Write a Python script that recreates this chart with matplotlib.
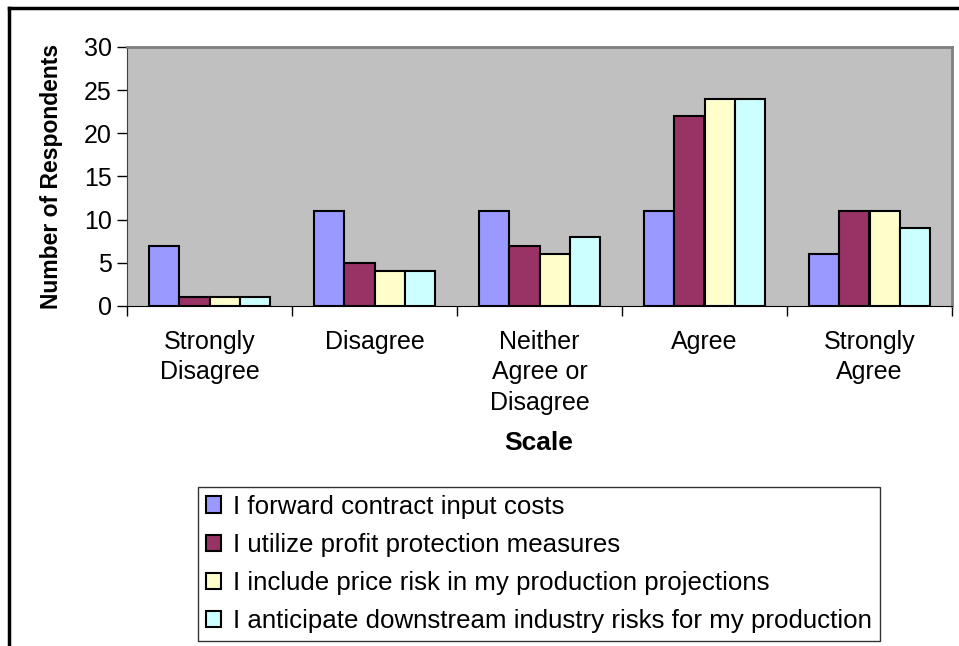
import numpy as np
import matplotlib.pyplot as plt
from matplotlib.lines import Line2D

plt.rcParams['font.family'] = ['Liberation Sans', 'DejaVu Sans']

categories = ['Strongly\nDisagree', 'Disagree', 'Neither\nAgree or\nDisagree', 'Agree', 'Strongly\nAgree']
series_names = [
    'I forward contract input costs',
    'I utilize profit protection measures',
    'I include price risk in my production projections',
    'I anticipate downstream industry risks for my production',
]
forward_contract = [7, 11, 11, 11, 6]
profit_protection = [1, 5, 7, 22, 11]
price_risk = [1, 4, 6, 24, 11]
downstream_risk = [1, 4, 8, 24, 9]
colors = ['#9999FF', '#993366', '#FFFFCC', '#CCFFFF']

W, H = 959, 646
fig = plt.figure(figsize=(W / 100, H / 100), dpi=100)
ax = fig.add_axes([127 / W, 1 - 306 / H, 825 / W, 259 / H])
ax.set_facecolor('#C0C0C0')

x = np.arange(len(categories))
bar_w = 0.182
series = [forward_contract, profit_protection, price_risk, downstream_risk]
for i, (vals, name, c) in enumerate(zip(series, series_names, colors)):
    ax.bar(x + (i - 1.5) * bar_w, vals, bar_w, color=c, edgecolor='black',
           linewidth=1.5, label=name, zorder=3)

ax.set_xlim(-0.5, len(categories) - 0.5)
ax.set_ylim(0, 30)
ax.set_yticks(range(0, 31, 5))
ax.tick_params(axis='y', labelsize=18, length=7, width=1, direction='out', pad=4)

# category boundaries as major ticks, names centered on minor ticks
ax.set_xticks(np.arange(-0.5, len(categories), 1))
ax.set_xticklabels([])
ax.set_xticks(x, minor=True)
ax.set_xticklabels(categories, minor=True, fontsize=18, linespacing=1.35)
ax.tick_params(axis='x', which='major', length=7, width=1)
ax.tick_params(axis='x', which='minor', length=0, pad=17)

for side in ['top', 'right']:
    ax.spines[side].set_color('#808080')
    ax.spines[side].set_linewidth(2)
ax.spines['left'].set_color('#404040')
ax.spines['bottom'].set_color('black')

ax.set_ylabel('Number of Respondents', fontsize=16.5, fontweight='bold', labelpad=15)
fig.text(539 / W, 1 - 443 / H, 'Scale', fontsize=19, fontweight='bold',
         ha='center', va='center')

leg = fig.legend(loc='upper left', bbox_to_anchor=(198 / W, 1 - 487 / H),
                 fontsize=18.6, frameon=True, fancybox=False, edgecolor='black',
                 handlelength=0.6, handleheight=0.6, handletextpad=0.45,
                 labelspacing=0.55, borderpad=0.3, borderaxespad=0)
leg.get_frame().set_linewidth(1)

# outer chart border
fig.add_artist(Line2D([9 / W, 9 / W], [0, 1 - 8 / H], color='black', linewidth=2.5))
fig.add_artist(Line2D([9 / W, 1], [1 - 8 / H, 1 - 8 / H], color='black', linewidth=2.5))

fig.savefig('out.png', dpi=100)
